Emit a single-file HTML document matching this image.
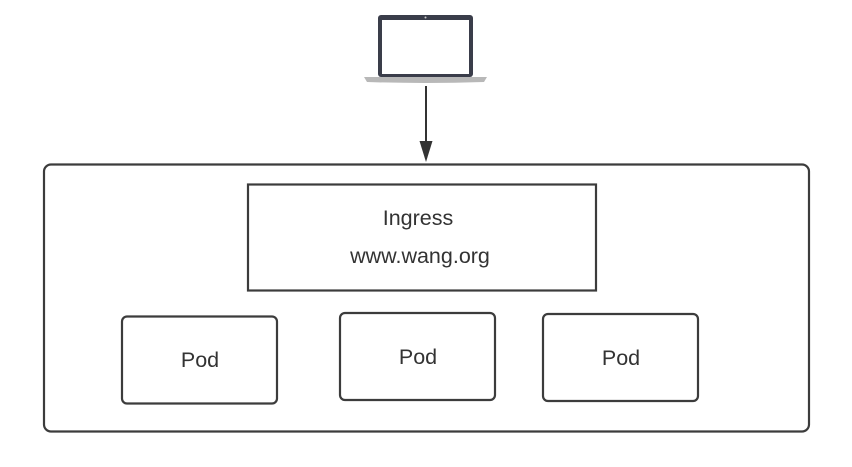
<!DOCTYPE html>
<html><head><style>
body{margin:0;width:852px;height:462px;background:#fff;overflow:hidden}
svg text{font-family:"Liberation Sans",sans-serif;fill:#333;font-size:21.5px;text-anchor:middle}
</style></head><body>
<svg width="852" height="462" viewBox="0 0 852 462">
<rect x="378" y="15" width="95" height="62" rx="3" fill="#3a3d4a"/>
<rect x="382" y="20" width="87" height="54" fill="#fff"/>
<circle cx="425.5" cy="17.5" r="1" fill="#ccc"/>
<path d="M364 77 H487 L484 82 Q425 84 367 82 Z" fill="#b8b8b8"/>
<line x1="426" y1="86" x2="426" y2="146" stroke="#333" stroke-width="2"/>
<path d="M419.5 141 L432.5 141 L426 162 Z" fill="#333"/>
<rect x="44" y="164.5" width="765" height="267" rx="7" fill="none" stroke="#3c3c3c" stroke-width="2.2"/>
<rect x="248" y="184.5" width="348" height="106" fill="none" stroke="#3c3c3c" stroke-width="2.2"/>
<text x="418" y="225">Ingress</text>
<text x="420" y="263">www.wang.org</text>
<rect x="122" y="316.5" width="155" height="87" rx="5" fill="none" stroke="#3c3c3c" stroke-width="2.2"/>
<text x="200" y="367">Pod</text>
<rect x="340" y="313" width="155" height="87" rx="5" fill="none" stroke="#3c3c3c" stroke-width="2.2"/>
<text x="418" y="364">Pod</text>
<rect x="543" y="314" width="155" height="87" rx="5" fill="none" stroke="#3c3c3c" stroke-width="2.2"/>
<text x="621" y="365">Pod</text>
</svg>
</body></html>
